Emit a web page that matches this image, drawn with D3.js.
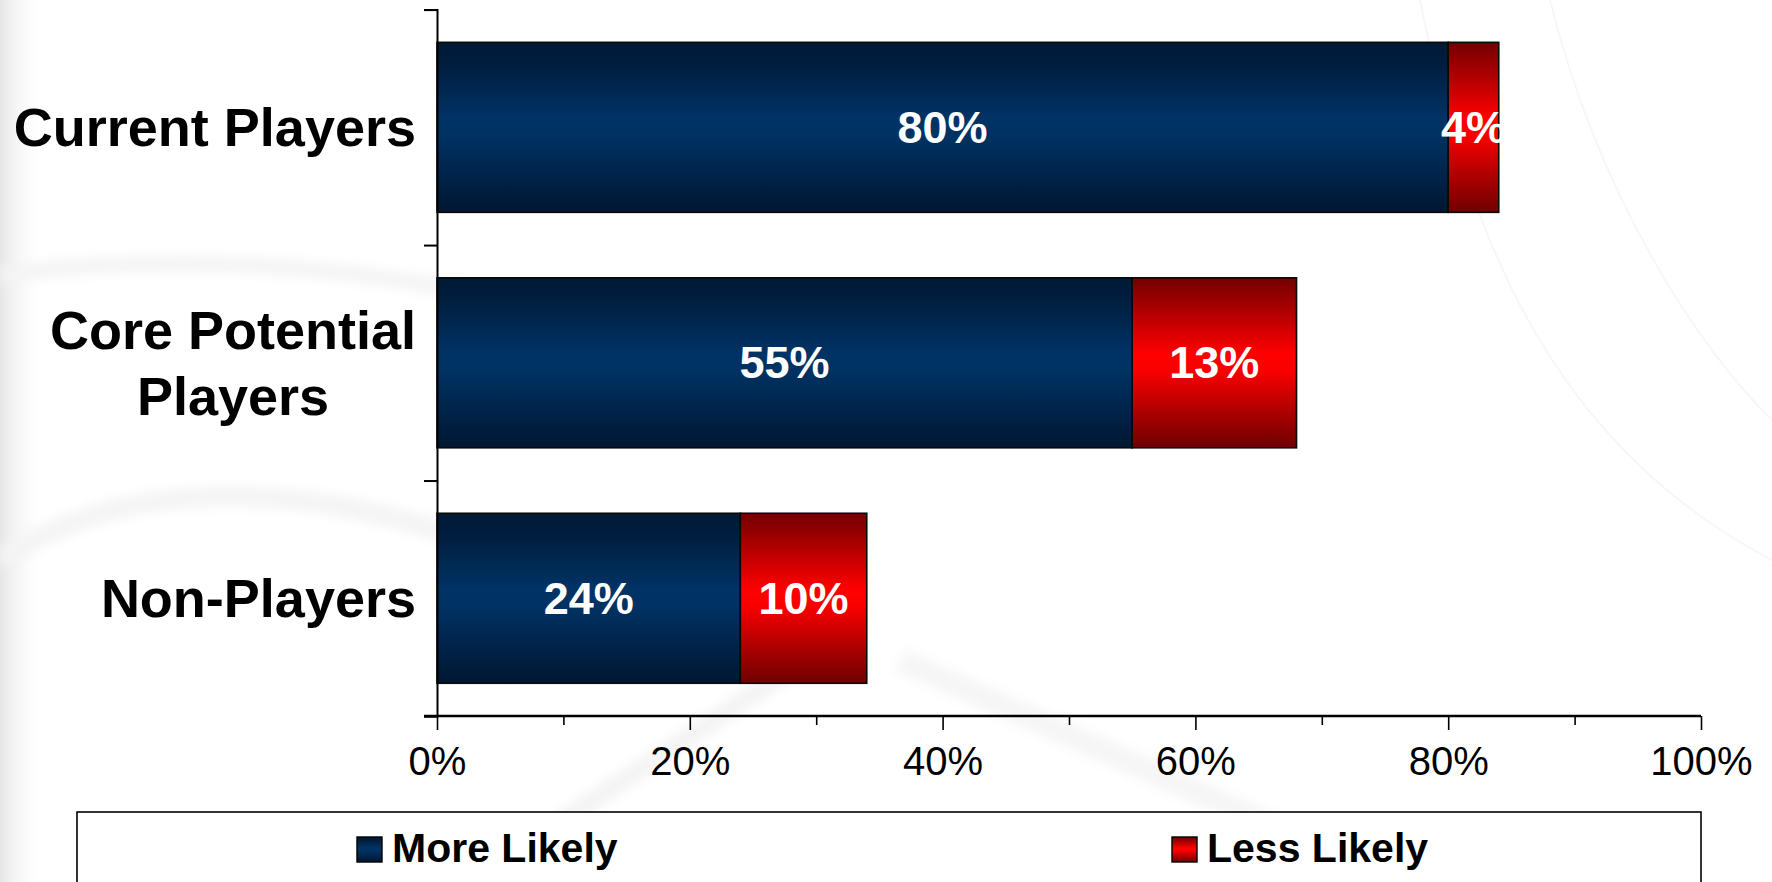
<!DOCTYPE html>
<html>
<head>
<meta charset="utf-8">
<script src="https://cdn.jsdelivr.net/npm/d3@7"></script>
<style>
  html, body { margin: 0; padding: 0; background: #ffffff; }
  svg { display: block; }
</style>
</head>
<body>
<svg id="chart" width="1772" height="882"></svg>
<script>
// ---- data ----
const categories = ["Current Players", "Core Potential Players", "Non-Players"];
const categoryLines = [["Current Players"], ["Core Potential", "Players"], ["Non-Players"]];
const seriesNames = ["More Likely", "Less Likely"];
const moreLikely = [80, 55, 24];
const lessLikely = [4, 13, 10];
const tickValues = [0, 20, 40, 60, 80, 100];
const minorTickValues = [10, 30, 50, 70, 90];
const tickLabels = ["0%", "20%", "40%", "60%", "80%", "100%"];

// ---- setup ----
const W = 1772, H = 882;
const svg = d3.select("#chart");
const FONT = "'Liberation Sans', Arial, Helvetica, sans-serif";
const defs = svg.append("defs");

function vGrad(id, stops) {
  const g = defs.append("linearGradient").attr("id", id)
    .attr("x1", 0).attr("y1", 0).attr("x2", 0).attr("y2", 1);
  stops.forEach(s => g.append("stop").attr("offset", s[0]).attr("stop-color", s[1]));
}
vGrad("gBlue", [[0, "#001a36"], [0.12, "#001d3d"], [0.45, "#003366"], [0.55, "#003262"], [0.85, "#001f42"], [1, "#001731"]]);
vGrad("gRed", [[0, "#730000"], [0.15, "#a00000"], [0.45, "#ff0000"], [0.55, "#f80000"], [0.85, "#9a0000"], [1, "#700000"]]);
const lg = defs.append("linearGradient").attr("id", "gLeft").attr("x1", 0).attr("x2", 1).attr("y1", 0).attr("y2", 0);
lg.append("stop").attr("offset", 0).attr("stop-color", "#e6e6e6");
lg.append("stop").attr("offset", 1).attr("stop-color", "#ffffff").attr("stop-opacity", 0);
const blur = defs.append("filter").attr("id", "soft").attr("x", "-20%").attr("y", "-20%").attr("width", "140%").attr("height", "140%");
blur.append("feGaussianBlur").attr("stdDeviation", 6);

// background
svg.append("rect").attr("width", W).attr("height", H).attr("fill", "#ffffff");
svg.append("rect").attr("width", 45).attr("height", H).attr("fill", "url(#gLeft)");
const bg = svg.append("g").attr("fill", "none").attr("filter", "url(#soft)");
bg.append("path").attr("d", "M0,275 C150,255 350,260 520,305").attr("stroke-width", 16).attr("stroke", "#f4f4f4");
bg.append("path").attr("d", "M0,560 C120,480 300,470 520,560").attr("stroke-width", 20).attr("stroke", "#f4f4f4");
bg.append("path").attr("d", "M470,882 L820,650").attr("stroke-width", 18).attr("stroke", "#f3f3f3");
bg.append("path").attr("d", "M900,660 L1400,882").attr("stroke-width", 24).attr("stroke", "#f6f6f6");
const rays = svg.append("g").attr("fill", "none").attr("stroke", "#f7f7f7").attr("stroke-width", 2);
rays.append("path").attr("d", "M1550,0 C1600,200 1700,350 1772,420");
rays.append("path").attr("d", "M1420,0 C1470,250 1560,450 1772,560");

// ---- scales ----
const x = d3.scaleLinear().domain([0, 100]).range([437, 1701]);
const y = d3.scaleBand().domain(categories).range([9.6, 716]).paddingInner(0.278).paddingOuter(0.139);
const yEdge = d3.scaleLinear().domain([0, categories.length]).range([9.6, 716]);

// ---- bars ----
const rows = categories.map((c, i) => ({ cat: c, more: moreLikely[i], less: lessLikely[i] }));
const stack = d3.stack().keys(["more", "less"])(rows);
const fills = ["url(#gBlue)", "url(#gRed)"];

const barG = svg.append("g");
stack.forEach((layer, li) => {
  barG.selectAll(null).data(layer).enter().append("rect")
    .attr("x", d => x(d[0]))
    .attr("y", d => y(d.data.cat))
    .attr("width", d => x(d[1]) - x(d[0]))
    .attr("height", y.bandwidth())
    .attr("fill", fills[li])
    .attr("stroke", "#0a0a0a")
    .attr("stroke-width", 1.6);
});

// data labels
stack.forEach((layer, li) => {
  svg.append("g").selectAll(null).data(layer).enter().append("text")
    .attr("x", d => x((d[0] + d[1]) / 2))
    .attr("y", d => y(d.data.cat) + y.bandwidth() / 2 + 15.5)
    .attr("text-anchor", "middle")
    .attr("font-family", FONT).attr("font-weight", "bold").attr("font-size", 45)
    .attr("fill", "#ffffff")
    .text(d => (d[1] - d[0]) + "%");
});

// ---- axes ----
const yAxis = d3.axisLeft(yEdge).tickValues(d3.range(categories.length + 1)).tickSize(13).tickFormat("");
const yg = svg.append("g").attr("transform", `translate(${x(0)},0)`).call(yAxis);
yg.select(".domain").attr("stroke", "#000").attr("stroke-width", 2);
yg.selectAll(".tick line").attr("stroke", "#000").attr("stroke-width", 2);

const xAxisMinor = d3.axisBottom(x).tickValues(minorTickValues).tickSize(9).tickFormat("");
const xgm = svg.append("g").attr("transform", "translate(0,716)").call(xAxisMinor);
xgm.select(".domain").remove();
xgm.selectAll(".tick line").attr("stroke", "#000").attr("stroke-width", 1.6);

const xAxis = d3.axisBottom(x).tickValues(tickValues).tickSize(14).tickPadding(17)
  .tickFormat((d, i) => tickLabels[i]);
const xg = svg.append("g").attr("transform", "translate(0,716)").call(xAxis);
xg.select(".domain").attr("d", `M${x(0) - 13},0H${x(100)}`).attr("stroke", "#000").attr("stroke-width", 2.4);
xg.selectAll(".tick line").attr("stroke", "#000").attr("stroke-width", 1.6);
xg.selectAll(".tick text").attr("font-family", FONT).attr("font-size", 40).attr("fill", "#000");

// category labels
const labelRight = 416;
categoryLines.forEach((lines, i) => {
  const cy = y(categories[i]) + y.bandwidth() / 2;
  const lineH = 66;
  const g = svg.append("g");
  const texts = lines.map((ln, j) => g.append("text")
    .attr("font-family", FONT).attr("font-weight", "bold").attr("font-size", 54)
    .attr("fill", "#000").attr("text-anchor", "middle")
    .attr("y", cy + 19 + (j - (lines.length - 1) / 2) * lineH)
    .text(ln));
  const maxW = d3.max(texts, t => t.node().getComputedTextLength());
  texts.forEach(t => t.attr("x", labelRight - maxW / 2));
});

// ---- legend ----
svg.append("rect").attr("x", 77).attr("y", 812).attr("width", 1624).attr("height", 110)
  .attr("fill", "#ffffff").attr("stroke", "#000").attr("stroke-width", 1.6);
const legendX = [357, 1172];
seriesNames.forEach((name, i) => {
  svg.append("rect").attr("x", legendX[i]).attr("y", 837).attr("width", 25).attr("height", 25)
    .attr("fill", fills[i]).attr("stroke", "#000").attr("stroke-width", 1.4);
  svg.append("text").attr("x", legendX[i] + 35).attr("y", 862)
    .attr("font-family", FONT).attr("font-weight", "bold").attr("font-size", 41).attr("fill", "#000")
    .text(name);
});
</script>
</body>
</html>
